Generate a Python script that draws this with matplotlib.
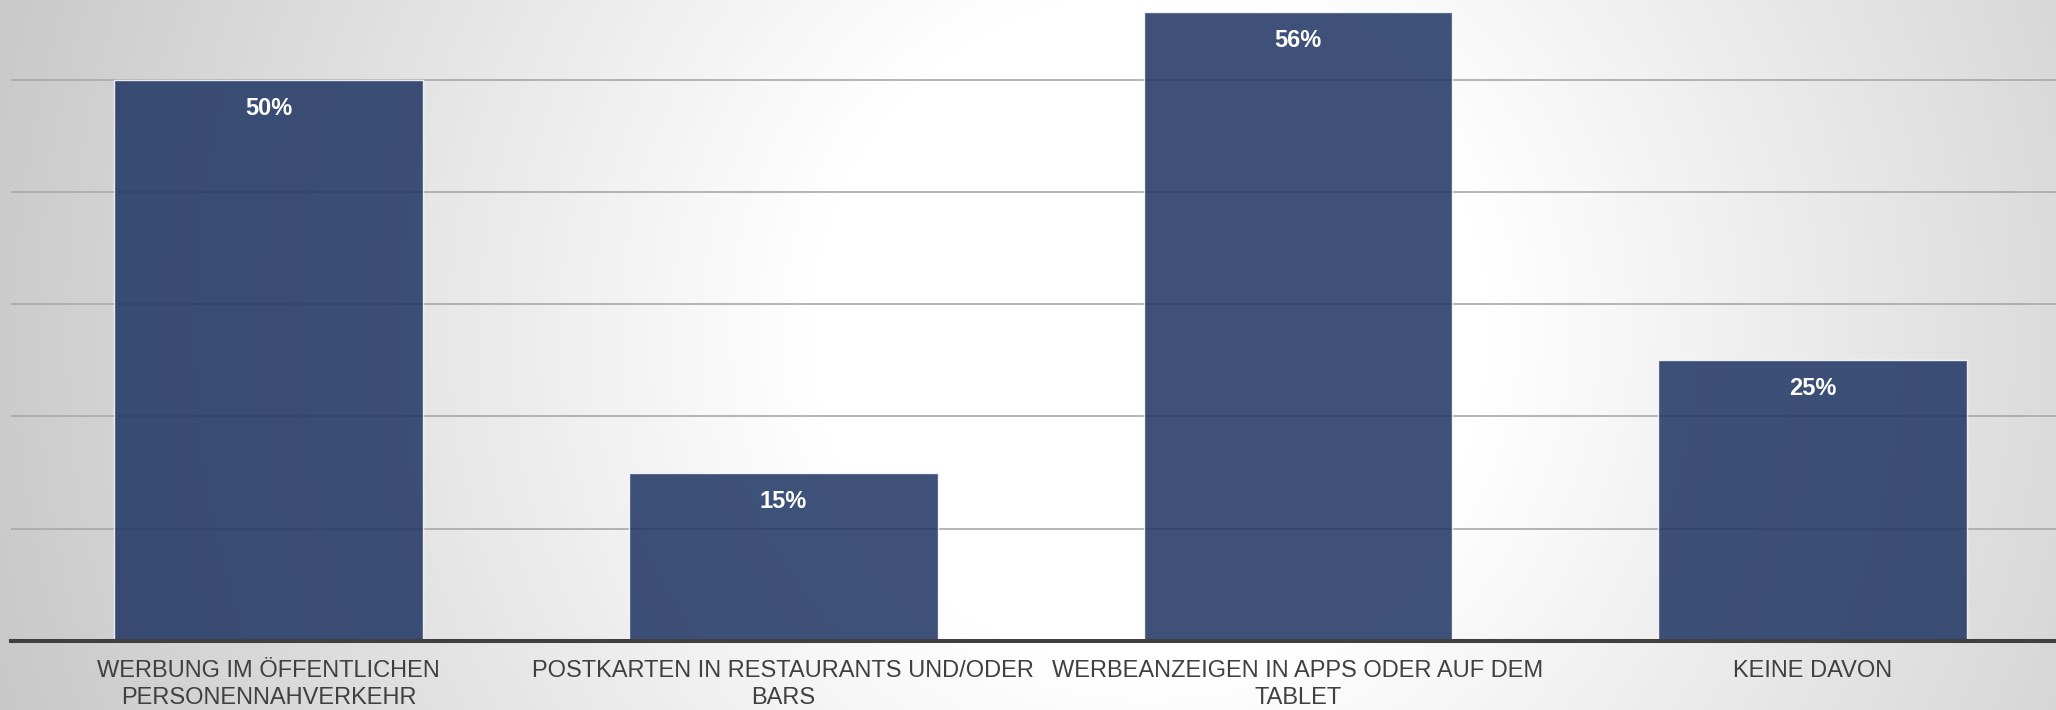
import numpy as np
import matplotlib
matplotlib.use('Agg')
import matplotlib.pyplot as plt

plt.rcParams['font.family'] = ['Liberation Sans', 'DejaVu Sans']

categories = ['WERBUNG IM ÖFFENTLICHEN\nPERSONENNAHVERKEHR',
              'POSTKARTEN IN RESTAURANTS UND/ODER\nBARS',
              'WERBEANZEIGEN IN APPS ODER AUF DEM\nTABLET',
              'KEINE DAVON']
values = [50, 15, 56, 25]
value_labels = ['50%', '15%', '56%', '25%']
grid_ticks = [10, 20, 30, 40, 50]

W, H = 2056, 710
fig = plt.figure(figsize=(W / 100, H / 100), dpi=100)

# radial grey -> white background
bg = fig.add_axes([0, 0, 1, 1], zorder=0)
yy, xx = np.mgrid[0:H, 0:W]
r = np.hypot(xx - 1150, yy - 330)
t = np.clip((r - 340) / 950, 0, 1)
shade = 255 - 60 * t
img = np.dstack([shade, shade, shade]).astype(np.uint8)
bg.imshow(img, aspect='auto', extent=[0, 1, 0, 1])
bg.axis('off')

ax = fig.add_axes([11.4 / W, 1 - 641 / H, 2058.6 / W, 641 / H], zorder=1)
ax.set_facecolor('none')
x = np.arange(len(categories))
ax.bar(x, values, width=0.6, color='#1d3361', alpha=0.85,
       edgecolor=(1, 1, 1, 0.3), linewidth=1.0, zorder=3)
for xi, v, lab in zip(x, values, value_labels):
    ax.annotate(lab, (xi, v), xytext=(0, -20.5), textcoords='offset points',
                ha='center', va='center', color='white', fontsize=17,
                fontweight='bold', zorder=4)

ax.set_xlim(-0.5, len(categories) - 0.5)
ax.set_ylim(0, 57.1)
ax.set_yticks(grid_ticks)
ax.yaxis.grid(True, color='#a8a8a8', lw=1.2, zorder=1)
ax.set_axisbelow(True)
ax.tick_params(axis='y', left=False, labelleft=False)
ax.set_xticks(x)
ax.set_xticklabels(categories, fontsize=17, color='#404040', linespacing=1.28)
ax.tick_params(axis='x', length=0, pad=14)
for s in ['top', 'right', 'left']:
    ax.spines[s].set_visible(False)
ax.spines['bottom'].set_color('#404040')
ax.spines['bottom'].set_linewidth(2.9)
ax.spines['bottom'].set_zorder(5)

fig.savefig('out.png', dpi=100)
